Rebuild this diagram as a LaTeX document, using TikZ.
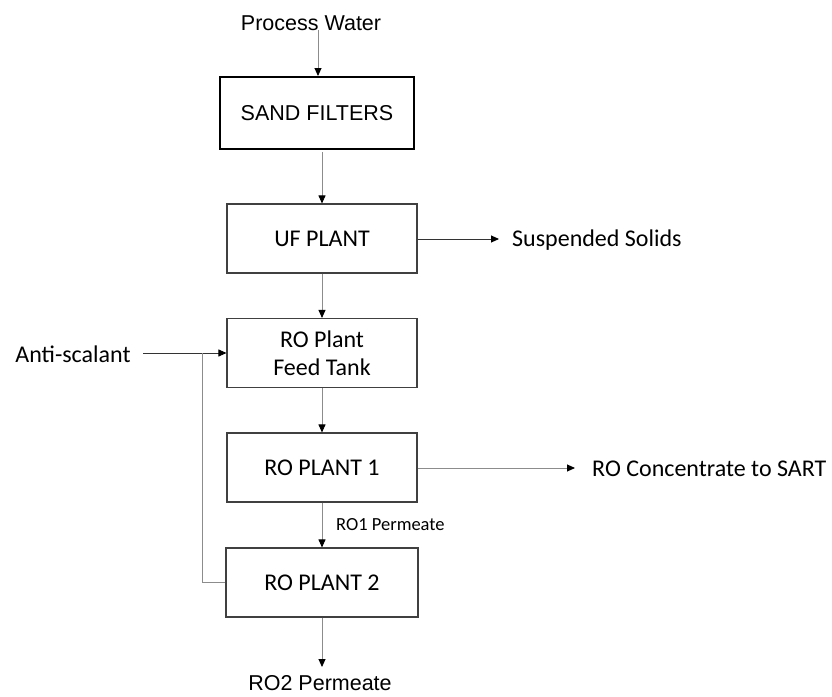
\documentclass[tikz,border=0pt]{standalone}
\usepackage{fontspec}
\setmainfont{Carlito}
\newfontfamily\arialf{Liberation Sans}
\usetikzlibrary{arrows.meta}
\tikzstyle{unit} = [draw=black!75, line width=1.1pt, rectangle, minimum width=190pt, minimum height=69pt, font={\fontsize{24}{28}\selectfont}, align=center, inner sep=0pt]
\tikzstyle{sand} = [unit, draw=black, line width=2pt, minimum width=194pt, minimum height=72pt, font={\arialf\fontsize{21.5}{26}\selectfont}]
\tikzstyle{lbl} = [font={\fontsize{24}{28}\selectfont}, inner sep=0pt]
\tikzstyle{alabel} = [font={\arialf\fontsize{21.5}{26}\selectfont}, inner sep=0pt]
\tikzstyle{flow} = [draw=black!45, line width=0.9pt, -{Triangle[length=8pt,width=7pt,color=black]}]
\tikzstyle{pipe} = [draw=black!45, line width=0.9pt]

\begin{document}
\begin{tikzpicture}[x=1pt,y=1pt]
        \useasboundingbox (0,0) rectangle (832,-696);
        \node[alabel](water) at (311,-23){Process Water};
        \node[sand](filters) at (317,-113){SAND FILTERS};
        \node[unit](uf) at (322,-238.5){UF PLANT};
        \node[unit](tank) at (322,-353){RO Plant\\Feed Tank};
        \node[unit](ro1) at (322,-467.5){RO PLANT 1};
        \node[unit, minimum width=192pt](ro2) at (322,-582.5){RO PLANT 2};
        \node[lbl, anchor=west](solids) at (512,-240){Suspended Solids};
        \node[lbl](anti) at (73,-354){Anti-scalant};
        \node[lbl, anchor=west](sart) at (592,-469){RO Concentrate to SART};
        \node[lbl, anchor=west, font={\fontsize{18.5}{22}\selectfont}](perm1) at (336,-525){RO1 Permeate};
        \node[alabel](perm2) at (320,-683){RO2 Permeate};
        \coordinate (w0) at (318,-30);
        \coordinate (s0) at (322,-152);
        \coordinate (a0) at (143,-353);
        \coordinate (j0) at (202,-353);
        \coordinate (j1) at (202,-582.5);
        \coordinate (e1) at (499,-239);
        \coordinate (e2) at (575,-468);
        \coordinate (e3) at (322,-667);
        \draw[flow](w0)--(w0|-filters.north);
        \draw[flow](s0)--(uf.north);
        \draw[flow](uf.south)--(tank.north);
        \draw[flow](tank.south)--(ro1.north);
        \draw[flow](ro1.south)--(ro2.north);
        \draw[flow](ro2.south)--(e3);
        \draw[flow,draw=black!80](uf.east|-e1)--(e1);
        \draw[flow](ro1.east|-e2)--(e2);
        \draw[flow,draw=black!80](a0)--(a0-|tank.west);
        \draw[pipe](ro2.west|-j1)--(j1)--(j0);
      \end{tikzpicture}
\end{document}
